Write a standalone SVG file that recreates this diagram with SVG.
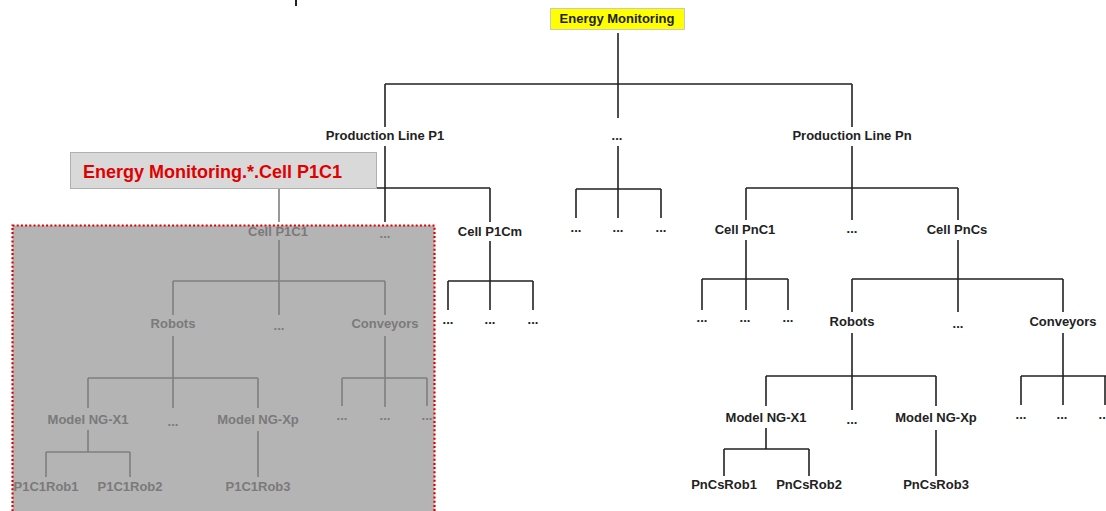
<svg xmlns="http://www.w3.org/2000/svg" width="1106" height="511" viewBox="0 0 1106 511">
<style>
  text{font-family:"Liberation Sans",Arial,sans-serif;font-weight:bold;font-size:13px;text-anchor:middle}
  .k{fill:#222}
  .g{fill:#7a7a7a}
  .c path{fill:none;stroke:#222;stroke-width:1.6}
  .cg path{fill:none;stroke:#7f7f7f;stroke-width:1.6}
</style>
<rect x="0" y="0" width="1106" height="511" fill="#ffffff"/>
<rect x="295" y="0" width="2" height="6" fill="#222"/>

<!-- grey focus region -->
<g id="focus-region">
  <rect x="12.5" y="225.5" width="422" height="290" fill="#b4b4b4" stroke="#e00000" stroke-width="2.2" stroke-dasharray="2 2.2"/>
</g>

<!-- connectors -->
<g id="connectors">
  <g class="c">
    <path d="M618 33V118M385 84H852M385 84V127M852 84V127"/>
    <path d="M385 146V222M279 188H490M490 188V222"/>
    <path d="M618 146V218M576 189H661M576 189V218M661 189V218"/>
    <path d="M852 146V220M746 188H958M746 188V220M958 188V220"/>
    <path d="M490 241V310M448 281H533M448 281V310M533 281V310"/>
    <path d="M746 240V310M702 279H788M702 279V310M788 279V310"/>
    <path d="M958 240V312M852 279H1063M852 279V312M1063 279V312"/>
    <path d="M852 333V410M766 376H936M766 376V406M936 376V406"/>
    <path d="M1063 333V405M1021 376H1106M1021 376V405M1105 376V405"/>
    <path d="M766 428V449M724 449H809M724 449V476M809 449V476"/>
    <path d="M936 430V476"/>
  </g>
  <g class="cg">
    <path d="M279 189V222"/>
    <path d="M279 240V315M173 281H385M173 281V315M385 281V315"/>
    <path d="M173 336V408M88 378H258M88 378V408M258 378V408"/>
    <path d="M385 336V407M342 378H427M342 378V406M427 378V406"/>
    <path d="M88 430V452M46 452H130M46 452V477M130 452V477"/>
    <path d="M258 431V477"/>
  </g>
</g>

<!-- label box -->
<g id="label-cell-p1c1">
  <rect x="70.5" y="152.5" width="306" height="36" fill="#d9d9d9" stroke="#b0b0b0" stroke-width="1"/>
  <text x="83" y="178" style="font-size:18px;text-anchor:start;fill:#e00000">Energy Monitoring.*.Cell P1C1</text>
</g>

<g id="root">
  <rect x="550.5" y="8.5" width="134" height="21" fill="#ffff00" stroke="#c8c8c8" stroke-width="1"/>
  <text class="k" x="617" y="23">Energy Monitoring</text>
</g>

<g id="line-p1"><text class="k" x="385" y="140">Production Line P1</text></g>
<g id="line-dots"><text class="k" x="617" y="140">...</text></g>
<g id="line-pn"><text class="k" x="852" y="140">Production Line Pn</text></g>

<g id="cell-p1c1"><text class="g" x="278" y="236">Cell P1C1</text></g>
<g id="cell-p1-dots"><text class="g" x="385" y="238">...</text></g>
<g id="cell-p1cm"><text class="k" x="490" y="236">Cell P1Cm</text></g>

<g id="mid-leaves">
  <text class="k" x="576" y="232">...</text>
  <text class="k" x="618" y="232">...</text>
  <text class="k" x="661" y="232">...</text>
</g>

<g id="cell-pnc1"><text class="k" x="745" y="234">Cell PnC1</text></g>
<g id="cell-pn-dots"><text class="k" x="852" y="233">...</text></g>
<g id="cell-pncs"><text class="k" x="957" y="234">Cell PnCs</text></g>

<g id="p1cm-leaves">
  <text class="k" x="448" y="324">...</text>
  <text class="k" x="490" y="324">...</text>
  <text class="k" x="533" y="324">...</text>
</g>
<g id="pnc1-leaves">
  <text class="k" x="702" y="322">...</text>
  <text class="k" x="745" y="322">...</text>
  <text class="k" x="788" y="322">...</text>
</g>

<g id="p1-robots"><text class="g" x="173" y="328">Robots</text></g>
<g id="p1-dev-dots"><text class="g" x="279" y="330">...</text></g>
<g id="p1-conveyors"><text class="g" x="385" y="328">Conveyors</text></g>

<g id="pn-robots"><text class="k" x="852" y="326">Robots</text></g>
<g id="pn-dev-dots"><text class="k" x="958" y="328">...</text></g>
<g id="pn-conveyors"><text class="k" x="1063" y="326">Conveyors</text></g>

<g id="p1-model-x1"><text class="g" x="88" y="424">Model NG-X1</text></g>
<g id="p1-model-dots"><text class="g" x="173" y="426">...</text></g>
<g id="p1-model-xp"><text class="g" x="258" y="424">Model NG-Xp</text></g>
<g id="p1-conv-leaves">
  <text class="g" x="342" y="420">...</text>
  <text class="g" x="385" y="420">...</text>
  <text class="g" x="427" y="420">...</text>
</g>

<g id="pn-model-x1"><text class="k" x="766" y="422">Model NG-X1</text></g>
<g id="pn-model-dots"><text class="k" x="852" y="424">...</text></g>
<g id="pn-model-xp"><text class="k" x="936" y="422">Model NG-Xp</text></g>
<g id="pn-conv-leaves">
  <text class="k" x="1021" y="419">...</text>
  <text class="k" x="1062" y="419">...</text>
  <text class="k" x="1104" y="419">...</text>
</g>

<g id="p1c1rob1"><text class="g" x="46" y="491">P1C1Rob1</text></g>
<g id="p1c1rob2"><text class="g" x="130" y="491">P1C1Rob2</text></g>
<g id="p1c1rob3"><text class="g" x="258" y="491">P1C1Rob3</text></g>
<g id="pncsrob1"><text class="k" x="724" y="489">PnCsRob1</text></g>
<g id="pncsrob2"><text class="k" x="809" y="489">PnCsRob2</text></g>
<g id="pncsrob3"><text class="k" x="936" y="489">PnCsRob3</text></g>
</svg>
